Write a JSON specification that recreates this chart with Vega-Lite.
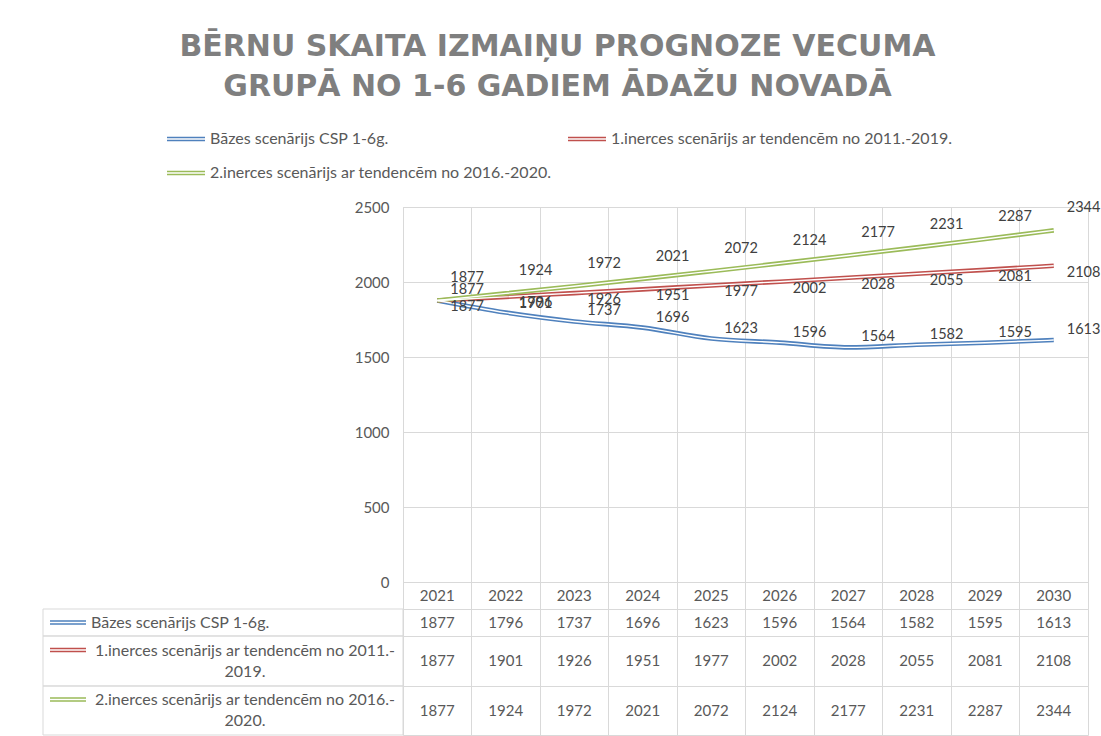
{
  "$schema": "https://vega.github.io/schema/vega-lite/v6.json",
  "padding": {"left": 42, "right": 0, "top": 32, "bottom": 0},
  "background": "white",
  "spacing": 0,
  "bounds": "flush",
  "title": {
    "text": ["BĒRNU SKAITA IZMAIŅU PROGNOZE VECUMA", "GRUPĀ NO 1-6 GADIEM ĀDAŽU NOVADĀ"],
    "font": "DejaVu Sans", "fontSize": 30, "fontWeight": "bold", "color": "#7f7f7f",
    "anchor": "middle", "lineHeight": 40, "offset": 17, "dx": -14
  },
  "config": {
    "view": {"stroke": "#d9d9d9"},
    "axis": {"gridColor": "#d9d9d9", "domainColor": "#d9d9d9", "labelFont": "Lato", "labelFontSize": 15, "labelColor": "#595959", "title": null},
    "text": {"font": "Lato", "fontSize": 15},
    "legend": {
      "orient": "none", "legendX": -237, "legendY": -88, "columns": 2, "direction": "horizontal",
      "symbolType": "M-1,-0.08H1M-1,0.08H1", "symbolSize": 1444, "symbolStrokeWidth": 1.6,
      "labelFont": "Lato", "labelFontSize": 16, "labelColor": "#595959", "labelLimit": 0,
      "columnPadding": 12, "rowPadding": 6, "title": null
    }
  },
  "datasets": {
    "proj": [
      {"series": "Bāzes scenārijs CSP 1-6g.", "year": 2021, "value": 1877},
      {"series": "Bāzes scenārijs CSP 1-6g.", "year": 2022, "value": 1796},
      {"series": "Bāzes scenārijs CSP 1-6g.", "year": 2023, "value": 1737},
      {"series": "Bāzes scenārijs CSP 1-6g.", "year": 2024, "value": 1696},
      {"series": "Bāzes scenārijs CSP 1-6g.", "year": 2025, "value": 1623},
      {"series": "Bāzes scenārijs CSP 1-6g.", "year": 2026, "value": 1596},
      {"series": "Bāzes scenārijs CSP 1-6g.", "year": 2027, "value": 1564},
      {"series": "Bāzes scenārijs CSP 1-6g.", "year": 2028, "value": 1582},
      {"series": "Bāzes scenārijs CSP 1-6g.", "year": 2029, "value": 1595},
      {"series": "Bāzes scenārijs CSP 1-6g.", "year": 2030, "value": 1613},
      {"series": "1.inerces scenārijs ar tendencēm no 2011.-2019.", "year": 2021, "value": 1877},
      {"series": "1.inerces scenārijs ar tendencēm no 2011.-2019.", "year": 2022, "value": 1901},
      {"series": "1.inerces scenārijs ar tendencēm no 2011.-2019.", "year": 2023, "value": 1926},
      {"series": "1.inerces scenārijs ar tendencēm no 2011.-2019.", "year": 2024, "value": 1951},
      {"series": "1.inerces scenārijs ar tendencēm no 2011.-2019.", "year": 2025, "value": 1977},
      {"series": "1.inerces scenārijs ar tendencēm no 2011.-2019.", "year": 2026, "value": 2002},
      {"series": "1.inerces scenārijs ar tendencēm no 2011.-2019.", "year": 2027, "value": 2028},
      {"series": "1.inerces scenārijs ar tendencēm no 2011.-2019.", "year": 2028, "value": 2055},
      {"series": "1.inerces scenārijs ar tendencēm no 2011.-2019.", "year": 2029, "value": 2081},
      {"series": "1.inerces scenārijs ar tendencēm no 2011.-2019.", "year": 2030, "value": 2108},
      {"series": "2.inerces scenārijs ar tendencēm no 2016.-2020.", "year": 2021, "value": 1877},
      {"series": "2.inerces scenārijs ar tendencēm no 2016.-2020.", "year": 2022, "value": 1924},
      {"series": "2.inerces scenārijs ar tendencēm no 2016.-2020.", "year": 2023, "value": 1972},
      {"series": "2.inerces scenārijs ar tendencēm no 2016.-2020.", "year": 2024, "value": 2021},
      {"series": "2.inerces scenārijs ar tendencēm no 2016.-2020.", "year": 2025, "value": 2072},
      {"series": "2.inerces scenārijs ar tendencēm no 2016.-2020.", "year": 2026, "value": 2124},
      {"series": "2.inerces scenārijs ar tendencēm no 2016.-2020.", "year": 2027, "value": 2177},
      {"series": "2.inerces scenārijs ar tendencēm no 2016.-2020.", "year": 2028, "value": 2231},
      {"series": "2.inerces scenārijs ar tendencēm no 2016.-2020.", "year": 2029, "value": 2287},
      {"series": "2.inerces scenārijs ar tendencēm no 2016.-2020.", "year": 2030, "value": 2344}
    ],
    "labels": [
      {"series": "Bāzes scenārijs CSP 1-6g.", "lines": ["Bāzes scenārijs CSP 1-6g."]},
      {"series": "1.inerces scenārijs ar tendencēm no 2011.-2019.", "lines": ["1.inerces scenārijs ar tendencēm no 2011.-", "2019."]},
      {"series": "2.inerces scenārijs ar tendencēm no 2016.-2020.", "lines": ["2.inerces scenārijs ar tendencēm no 2016.-", "2020."]}
    ]
  },
  "vconcat": [
    {
      "width": 685, "height": 375,
      "data": {"name": "proj"},
      "encoding": {
        "x": {"field": "year", "type": "ordinal", "scale": {"type": "band", "paddingInner": 0, "paddingOuter": 0},
              "axis": {"grid": true, "bandPosition": 0, "labels": false, "ticks": false, "domain": false}},
        "y": {"field": "value", "type": "quantitative", "scale": {"domain": [0, 2500]},
              "axis": {"values": [0, 500, 1000, 1500, 2000, 2500], "format": "d", "ticks": false, "domain": true, "labelPadding": 14}}
      },
      "layer": [
        {
          "mark": {"type": "line", "strokeWidth": 4.6, "interpolate": "monotone"},
          "encoding": {
            "color": {"field": "series", "type": "nominal",
              "scale": {"domain": ["Bāzes scenārijs CSP 1-6g.", "1.inerces scenārijs ar tendencēm no 2011.-2019.", "2.inerces scenārijs ar tendencēm no 2016.-2020."],
                        "range": ["#4f81bd", "#c0504d", "#9bbb59"]}}
          }
        },
        {
          "mark": {"type": "line", "strokeWidth": 1.4, "color": "white", "interpolate": "monotone"},
          "encoding": {"detail": {"field": "series", "type": "nominal"}}
        },
        {
          "transform": [{"filter": "datum.series === 'Bāzes scenārijs CSP 1-6g.'"}],
          "mark": {"type": "text", "align": "left", "dx": 13, "dy": -10, "fontSize": 14.5, "color": "#404040"},
          "encoding": {"text": {"field": "value", "type": "quantitative", "format": "d"}}
        },
        {
          "transform": [{"filter": "datum.series === '1.inerces scenārijs ar tendencēm no 2011.-2019.'"}],
          "mark": {"type": "text", "align": "left", "dx": 13, "dy": 7, "fontSize": 14.5, "color": "#404040"},
          "encoding": {"text": {"field": "value", "type": "quantitative", "format": "d"}}
        },
        {
          "transform": [{"filter": "datum.series === '2.inerces scenārijs ar tendencēm no 2016.-2020.'"}],
          "mark": {"type": "text", "align": "left", "dx": 13, "dy": -22, "fontSize": 14.5, "color": "#404040"},
          "encoding": {"text": {"field": "value", "type": "quantitative", "format": "d"}}
        }
      ]
    },
    {
      "width": 685, "height": 27,
      "data": {"name": "proj"},
      "transform": [{"filter": "datum.series === 'Bāzes scenārijs CSP 1-6g.'"}],
      "mark": {"type": "text", "color": "#595959"},
      "encoding": {
        "x": {"field": "year", "type": "ordinal", "scale": {"type": "band", "paddingInner": 0, "paddingOuter": 0},
              "axis": {"grid": true, "bandPosition": 0, "labels": false, "ticks": false, "domain": false}},
        "text": {"field": "year", "type": "nominal"}
      }
    },
    {
      "width": 685, "height": 27,
      "layer": [
        {
          "data": {"name": "proj"},
          "transform": [{"filter": "datum.series === 'Bāzes scenārijs CSP 1-6g.'"}],
          "mark": {"type": "text", "color": "#595959"},
          "encoding": {
            "x": {"field": "year", "type": "ordinal", "scale": {"type": "band", "paddingInner": 0, "paddingOuter": 0},
                  "axis": {"grid": true, "bandPosition": 0, "labels": false, "ticks": false, "domain": false}},
            "text": {"field": "value", "type": "nominal"}
          }
        },
        {
          "data": {"name": "labels"},
          "transform": [{"filter": "datum.series === 'Bāzes scenārijs CSP 1-6g.'"}],
          "mark": {"type": "rect", "fillOpacity": 0, "stroke": "#d9d9d9", "strokeWidth": 1, "xOffset": -360},
          "encoding": {"x": {"datum": 2021, "type": "ordinal", "bandPosition": 0}, "x2": {"datum": 2021, "bandPosition": 0}}
        },
        {
          "data": {"name": "labels"},
          "transform": [{"filter": "datum.series === 'Bāzes scenārijs CSP 1-6g.'"}],
          "mark": {"type": "point", "shape": "M-1,-0.08H1M-1,0.08H1", "size": 1296, "filled": false, "color": "#4f81bd", "strokeWidth": 1.6, "opacity": 1, "xOffset": -335},
          "encoding": {"x": {"datum": 2021, "type": "ordinal", "bandPosition": 0}}
        },
        {
          "data": {"name": "labels"},
          "transform": [{"filter": "datum.series === 'Bāzes scenārijs CSP 1-6g.'"}],
          "mark": {"type": "text", "align": "left", "dx": -312, "fontSize": 16, "color": "#595959"},
          "encoding": {"x": {"datum": 2021, "type": "ordinal", "bandPosition": 0}, "text": {"field": "lines", "type": "nominal"}}
        }
      ]
    },
    {
      "width": 685, "height": 50,
      "layer": [
        {
          "data": {"name": "proj"},
          "transform": [{"filter": "datum.series === '1.inerces scenārijs ar tendencēm no 2011.-2019.'"}],
          "mark": {"type": "text", "color": "#595959"},
          "encoding": {
            "x": {"field": "year", "type": "ordinal", "scale": {"type": "band", "paddingInner": 0, "paddingOuter": 0},
                  "axis": {"grid": true, "bandPosition": 0, "labels": false, "ticks": false, "domain": false}},
            "text": {"field": "value", "type": "nominal"}
          }
        },
        {
          "data": {"name": "labels"},
          "transform": [{"filter": "datum.series === '1.inerces scenārijs ar tendencēm no 2011.-2019.'"}],
          "mark": {"type": "rect", "fillOpacity": 0, "stroke": "#d9d9d9", "strokeWidth": 1, "xOffset": -360},
          "encoding": {"x": {"datum": 2021, "type": "ordinal", "bandPosition": 0}, "x2": {"datum": 2021, "bandPosition": 0}}
        },
        {
          "data": {"name": "labels"},
          "transform": [{"filter": "datum.series === '1.inerces scenārijs ar tendencēm no 2011.-2019.'"}],
          "mark": {"type": "point", "shape": "M-1,-0.08H1M-1,0.08H1", "size": 1296, "filled": false, "color": "#c0504d", "strokeWidth": 1.6, "opacity": 1, "xOffset": -335, "yOffset": -11},
          "encoding": {"x": {"datum": 2021, "type": "ordinal", "bandPosition": 0}}
        },
        {
          "data": {"name": "labels"},
          "transform": [{"filter": "datum.series === '1.inerces scenārijs ar tendencēm no 2011.-2019.'"}],
          "mark": {"type": "text", "align": "center", "dx": -158, "dy": -10.5, "lineHeight": 21, "fontSize": 16, "color": "#595959"},
          "encoding": {"x": {"datum": 2021, "type": "ordinal", "bandPosition": 0}, "text": {"field": "lines", "type": "nominal"}}
        }
      ]
    },
    {
      "width": 685, "height": 49,
      "layer": [
        {
          "data": {"name": "proj"},
          "transform": [{"filter": "datum.series === '2.inerces scenārijs ar tendencēm no 2016.-2020.'"}],
          "mark": {"type": "text", "color": "#595959"},
          "encoding": {
            "x": {"field": "year", "type": "ordinal", "scale": {"type": "band", "paddingInner": 0, "paddingOuter": 0},
                  "axis": {"grid": true, "bandPosition": 0, "labels": false, "ticks": false, "domain": false}},
            "text": {"field": "value", "type": "nominal"}
          }
        },
        {
          "data": {"name": "labels"},
          "transform": [{"filter": "datum.series === '2.inerces scenārijs ar tendencēm no 2016.-2020.'"}],
          "mark": {"type": "rect", "fillOpacity": 0, "stroke": "#d9d9d9", "strokeWidth": 1, "xOffset": -360},
          "encoding": {"x": {"datum": 2021, "type": "ordinal", "bandPosition": 0}, "x2": {"datum": 2021, "bandPosition": 0}}
        },
        {
          "data": {"name": "labels"},
          "transform": [{"filter": "datum.series === '2.inerces scenārijs ar tendencēm no 2016.-2020.'"}],
          "mark": {"type": "point", "shape": "M-1,-0.08H1M-1,0.08H1", "size": 1296, "filled": false, "color": "#9bbb59", "strokeWidth": 1.6, "opacity": 1, "xOffset": -335, "yOffset": -11},
          "encoding": {"x": {"datum": 2021, "type": "ordinal", "bandPosition": 0}}
        },
        {
          "data": {"name": "labels"},
          "transform": [{"filter": "datum.series === '2.inerces scenārijs ar tendencēm no 2016.-2020.'"}],
          "mark": {"type": "text", "align": "center", "dx": -158, "dy": -10.5, "lineHeight": 21, "fontSize": 16, "color": "#595959"},
          "encoding": {"x": {"datum": 2021, "type": "ordinal", "bandPosition": 0}, "text": {"field": "lines", "type": "nominal"}}
        }
      ]
    }
  ]
}
